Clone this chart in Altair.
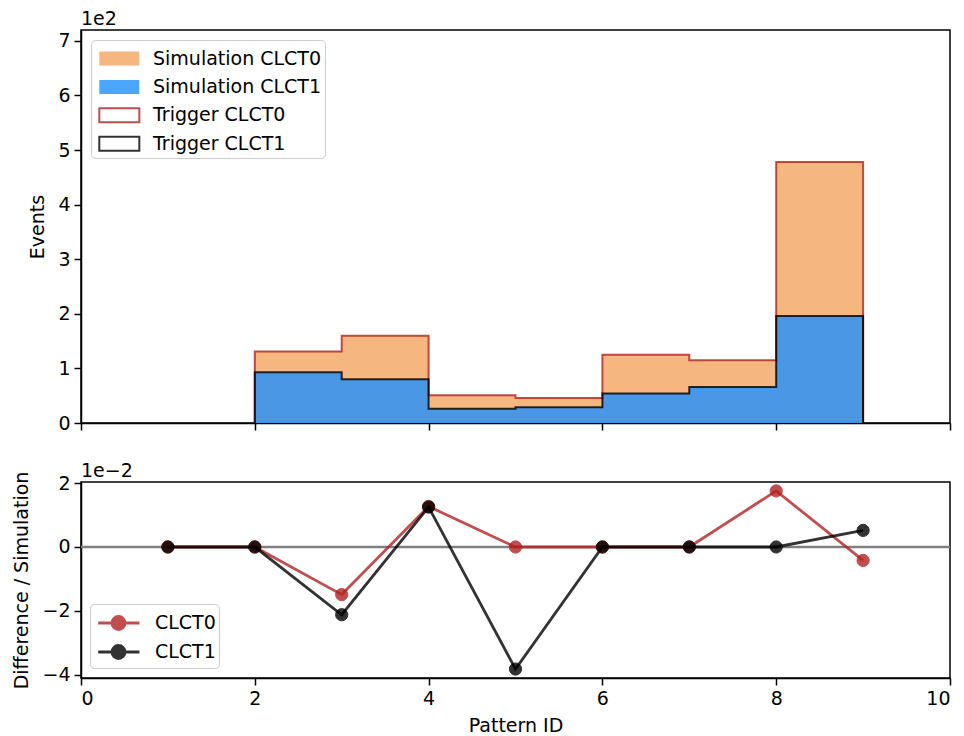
import altair as alt
import pandas as pd

FONT = "DejaVu Sans"

# ---------------- data ----------------
bin_left = [2, 3, 4, 5, 6, 7, 8]
bin_right = [3, 4, 5, 6, 7, 8, 9]
sim_clct0 = [131, 160, 51, 46, 125, 115, 478]
sim_clct1 = [93, 80, 26, 29, 54, 66, 196]
trig_clct0 = [131, 160, 51, 46, 125, 115, 478]
trig_clct1 = [93, 80, 26, 29, 54, 66, 196]

pattern_ids = [1, 2, 3, 4, 5, 6, 7, 8, 9]
ratio_clct0 = [0.0, 0.0, -0.0149, 0.0127, 0.0, 0.0, 0.0, 0.01755, -0.0042]
ratio_clct1 = [0.0, 0.0, -0.0212, 0.0125, -0.0382, 0.0, 0.0, 0.0, 0.0052]

top_series = ["Simulation CLCT0", "Simulation CLCT1", "Trigger CLCT0", "Trigger CLCT1"]
bot_series = ["CLCT0", "CLCT1"]

# ---------------- tables ----------------
area_rows = []
for name, vals in [("Simulation CLCT0", sim_clct0), ("Simulation CLCT1", sim_clct1)]:
    for a, v in zip(bin_left + [bin_right[-1]], vals + [vals[-1]]):
        area_rows.append({"series": name, "x0": a, "y": v})
area_df = pd.DataFrame(area_rows)

step_rows = []
for name, vals in [("Trigger CLCT0", trig_clct0), ("Trigger CLCT1", trig_clct1)]:
    k = 0
    step_rows.append({"series": name, "x0": bin_left[0], "y": 0, "k": k}); k += 1
    for a, b, v in zip(bin_left, bin_right, vals):
        step_rows.append({"series": name, "x0": a, "y": v, "k": k}); k += 1
        step_rows.append({"series": name, "x0": b, "y": v, "k": k}); k += 1
    step_rows.append({"series": name, "x0": bin_right[-1], "y": 0, "k": k})
step_df = pd.DataFrame(step_rows)

ratio_rows = []
for name, vals in [("CLCT0", ratio_clct0), ("CLCT1", ratio_clct1)]:
    for x, v in zip(pattern_ids, vals):
        ratio_rows.append({"series": name, "pid": x, "r": v})
ratio_df = pd.DataFrame(ratio_rows)

# ---------------- top panel ----------------
fill_scale = alt.Scale(domain=top_series, range=["sandybrown", "dodgerblue", "white", "white"])
stroke_scale = alt.Scale(domain=top_series, range=["transparent", "transparent", "firebrick", "black"])

top_legend = alt.Legend(
    title=None, orient="none", legendX=10, legendY=10,
    symbolType="M-0.718,-0.493H2.10V0.493H-0.718Z", symbolSize=807,
    symbolStrokeWidth=2, symbolOpacity=0.8,
    labelFont=FONT, labelFontSize=19, labelColor="black", labelOffset=28,
    labelLimit=0,
    fillColor="rgba(255,255,255,0.8)", strokeColor="#cccccc", cornerRadius=4,
    padding=3, rowPadding=1.4,
)

x_top = alt.X("x0:Q", scale=alt.Scale(domain=[0, 10], nice=False),
              axis=alt.Axis(values=[0, 2, 4, 6, 8, 10], labels=False, title=None))
y_top = alt.Y("y:Q", scale=alt.Scale(domain=[0, 720], nice=False), stack=None,
              axis=alt.Axis(values=[0, 100, 200, 300, 400, 500, 600, 700],
                            labelExpr="datum.value / 100", title="Events"))

areas = alt.Chart(area_df).mark_area(opacity=0.8, interpolate="step-after").encode(
    x=x_top, y=y_top, y2=alt.datum(0),
    fill=alt.Fill("series:N", scale=fill_scale, legend=top_legend),
    stroke=alt.Stroke("series:N", scale=stroke_scale, legend=top_legend),
)
steps = alt.Chart(step_df).mark_line(strokeWidth=2, opacity=0.8).encode(
    x=x_top, y=y_top, order="k:Q",
    stroke=alt.Stroke("series:N", scale=stroke_scale, legend=top_legend),
)
top_exp = alt.Chart(pd.DataFrame({"t": ["1e2"]})).mark_text(
    align="left", baseline="alphabetic", font=FONT, fontSize=19, color="black"
).encode(x=alt.value(0), y=alt.value(-5), text="t:N")

top = alt.layer(areas, steps, top_exp).properties(width=869, height=393)

# ---------------- bottom panel ----------------
bfill = alt.Scale(domain=bot_series, range=["firebrick", "black"])
bot_legend = alt.Legend(
    title=None, orient="none", legendX=9, legendY=122,
    symbolType="M-0.745,0H2.10M0.205,0A0.45,0.45 0 1,0 1.105,0A0.45,0.45 0 1,0 0.205,0",
    symbolSize=841, symbolStrokeWidth=2.8, symbolOpacity=0.8,
    labelFont=FONT, labelFontSize=19, labelColor="black", labelOffset=30,
    labelLimit=0,
    fillColor="rgba(255,255,255,0.8)", strokeColor="#cccccc", cornerRadius=4,
    padding=3, rowPadding=0,
)
ydom = [-0.0410, 0.02034]
x_bot = alt.X("pid:Q", scale=alt.Scale(domain=[0, 10], nice=False),
              axis=alt.Axis(values=[0, 2, 4, 6, 8, 10], title="Pattern ID", titlePadding=8))
y_bot = alt.Y("r:Q", scale=alt.Scale(domain=ydom, nice=False, zero=False),
              axis=alt.Axis(values=[-0.04, -0.02, 0, 0.02],
                            labelExpr="replace(toString(round(datum.value * 100)), '-', '\u2212')",
                            title="Difference / Simulation"))

zero_line = alt.Chart(pd.DataFrame({"z": [0.0]})).mark_rule(color="gray", strokeWidth=2.5).encode(
    y=alt.Y("z:Q", scale=alt.Scale(domain=ydom, nice=False, zero=False))
)

layers = [zero_line]
for s in bot_series:
    base = alt.Chart(ratio_df).transform_filter(alt.datum.series == s)
    layers.append(base.mark_line(strokeWidth=2.8, opacity=0.8).encode(
        x=x_bot, y=y_bot,
        stroke=alt.Stroke("series:N", scale=bfill, legend=bot_legend)))
    layers.append(base.mark_point(filled=True, size=150, opacity=0.8, strokeWidth=1).encode(
        x=x_bot, y=y_bot,
        fill=alt.Fill("series:N", scale=bfill, legend=bot_legend),
        stroke=alt.Stroke("series:N", scale=bfill, legend=bot_legend)))

bot_exp = alt.Chart(pd.DataFrame({"t": ["1e\u22122"]})).mark_text(
    align="left", baseline="alphabetic", font=FONT, fontSize=19, color="black"
).encode(x=alt.value(0), y=alt.value(-5), text="t:N")
layers.append(bot_exp)

bottom = alt.layer(*layers).properties(width=869, height=196)

chart = alt.vconcat(top, bottom, spacing=59, bounds="flush").resolve_scale(
    fill="independent", stroke="independent"
).resolve_legend(fill="independent", stroke="independent").properties(
    padding={"left": 12, "top": 9, "right": 0, "bottom": 0},
    background="white",
).configure_view(stroke="black", strokeWidth=1.5).configure_axis(
    domainColor="black", domainWidth=1.5, tickColor="black", tickWidth=1.5, tickSize=7,
    labelFont=FONT, labelFontSize=19, labelColor="black", labelPadding=4,
    titleFont=FONT, titleFontSize=19, titleFontWeight="normal", titleColor="black",
    titlePadding=10, grid=False,
)

chart.save("out.html", embed_options={"renderer": "svg", "actions": False})
